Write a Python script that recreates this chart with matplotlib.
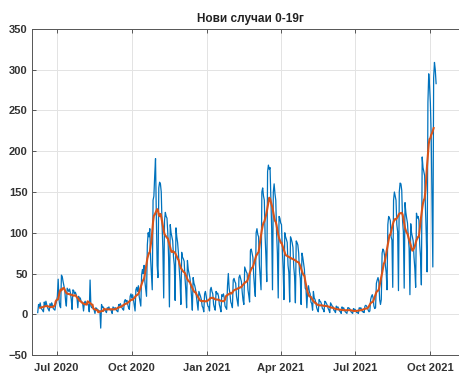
import numpy as np
import pandas as pd
import matplotlib
matplotlib.use("Agg")
import matplotlib.pyplot as plt
import matplotlib.dates as mdates

# daily new cases, age group 0-19, starting Mon 8 Jun 2020 (one row = one week)
summer_2020 = [
    2, 12, 9, 14, 8, 6, 5,
    3, 15, 10, 16, 12, 8, 6,
    4, 13, 8, 14, 11, 7, 6,
    5, 12, 16, 22, 43, 18, 10,
    8, 48, 46, 40, 35, 30, 17,
    10, 32, 30, 28, 31, 26, 18,
    6, 30, 29, 25, 27, 24, 20,
    8, 22, 18, 20, 16, 15, 13,
    4, 14, 16, 12, 14, 13, 11,
    3, 42, 10, 8, 9, 7, 5,
    1, 8, 7, 6, 5, 4, 4,
    -17, 12, 8, 9, 7, 5, 4,
    2, 8, 7, 9, 6, 6, 4,
    1, 9, 8, 7, 8, 5, 4,
    3, 12, 11, 13, 10, 8, 6,
    5, 16, 18, 15, 17, 12, 8,
    6, 22, 25, 20, 24, 18, 11,
]
autumn_2020 = [
    4, 30, 33, 28, 35, 22, 16,
    10, 48, 55, 50, 60, 40, 31,
    22, 85, 100, 95, 105, 68, 50,
    30, 140, 145, 170, 191, 120, 60,
    45, 155, 162, 160, 150, 110, 80,
    20, 115, 125, 120, 118, 100, 70,
    9, 110, 100, 95, 90, 70, 60,
    17, 106, 95, 88, 75, 55, 40,
    12, 76, 70, 68, 65, 45, 30,
    8, 66, 55, 50, 45, 35, 22,
    5, 45, 38, 35, 30, 22, 14,
    5, 28, 25, 22, 18, 10, 8,
    3, 25, 28, 22, 15, 10, 9,
]
spring_2021 = [
    4, 30, 33, 28, 25, 12, 8,
    5, 28, 25, 26, 22, 12, 8,
    3, 24, 22, 25, 20, 10, 8,
    6, 35, 50, 32, 25, 15, 12,
    8, 42, 44, 40, 38, 22, 16,
    10, 45, 48, 44, 40, 27, 17,
    12, 58, 55, 52, 50, 30, 23,
    15, 78, 80, 75, 70, 48, 33,
    22, 100, 105, 98, 95, 60, 45,
    30, 150, 155, 145, 140, 95, 70,
    40, 175, 183, 178, 180, 140, 105,
    30, 150, 160, 148, 140, 100, 75,
    20, 120, 118, 112, 110, 80, 56,
    18, 100, 95, 92, 88, 60, 51,
    15, 95, 92, 88, 82, 58, 46,
    14, 90, 88, 85, 75, 52, 44,
    12, 75, 70, 62, 55, 32, 30,
    8, 30, 35, 28, 25, 15, 13,
]
summer_2021 = [
    5, 28, 20, 18, 14, 8, 5,
    3, 18, 16, 15, 12, 7, 6,
    3, 16, 15, 13, 11, 7, 5,
    2, 14, 12, 10, 9, 5, 4,
    2, 10, 8, 9, 6, 4, 3,
    1, 9, 7, 8, 5, 3, 2,
    1, 8, 8, 7, 6, 3, 2,
    1, 7, 6, 6, 4, 2, 2,
    1, 8, 7, 8, 5, 3, 3,
    2, 10, 11, 10, 8, 5, 3,
    4, 18, 22, 24, 20, 10, 7,
    8, 38, 42, 45, 40, 18, 12,
]
autumn_2021 = [
    18, 75, 80, 78, 72, 60, 51,
    30, 110, 120, 118, 115, 95, 91,
    33, 140, 150, 145, 140, 110, 101,
    29, 150, 161, 160, 152, 115, 101,
    32, 137, 125, 118, 112, 95, 81,
    24, 111, 100, 95, 90, 70, 56,
    33, 124, 118, 120, 115, 85, 70,
    36, 193, 180, 175, 170, 130, 96,
    52, 260, 295, 280, 259, 220, 139,
    58, 290, 309, 300, 283,
]
start_date = "2020-06-08"
title = "Нови случаи 0-19г"
x_ticks = ["2020-07-01", "2020-10-01", "2021-01-01", "2021-04-01", "2021-07-01", "2021-10-01"]
x_tick_labels = ["Jul 2020", "Oct 2020", "Jan 2021", "Apr 2021", "Jul 2021", "Oct 2021"]
y_ticks = [-50, 0, 50, 100, 150, 200, 250, 300, 350]

cases = summer_2020 + autumn_2020 + spring_2021 + summer_2021 + autumn_2021
dates = pd.date_range(start_date, periods=len(cases), freq="D")
daily = pd.Series(cases, index=dates, dtype=float)
avg7 = daily.rolling(7, center=True).mean()

plt.rcParams['font.family'] = ['Liberation Sans', 'DejaVu Sans']

fig = plt.figure(figsize=(4.6, 3.74), dpi=100)
ax = fig.add_axes([32 / 460, 19 / 374, 436 / 460, 326 / 374])

ax.plot(daily.index, daily.values, color='#0072BD', lw=0.9)
ax.plot(avg7.index, avg7.values, color='#D95319', lw=1.5)

ax.set_xlim(pd.Timestamp("2020-06-01"), pd.Timestamp("2021-11-16"))
ax.set_ylim(-50, 350)
ax.set_yticks(y_ticks)
ax.set_xticks(pd.to_datetime(x_ticks))
ax.set_xticklabels(x_tick_labels)

ax.grid(True, color='#e3e3e3', lw=0.7)
ax.set_axisbelow(True)
ax.tick_params(direction='in', length=3, width=0.6, top=True, right=True,
               colors='#404040', labelsize=8)
ax.tick_params(axis='x', pad=6)
ax.tick_params(axis='y', pad=3)
for lab in ax.get_xticklabels() + ax.get_yticklabels():
    lab.set_fontweight('bold')
    lab.set_color('#333333')
for s in ax.spines.values():
    s.set_color('#555555')
    s.set_linewidth(0.7)

ax.set_title(title, fontsize=8.5, fontweight='bold', color='#222222', pad=5)

fig.savefig("out.png", dpi=100)
